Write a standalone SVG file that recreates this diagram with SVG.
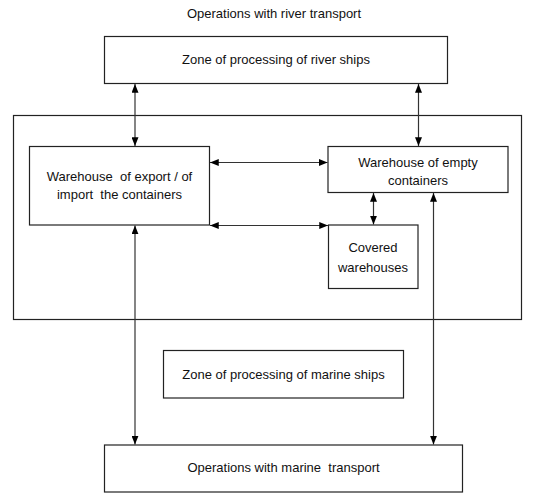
<svg xmlns="http://www.w3.org/2000/svg" width="548" height="493" viewBox="0 0 548 493">
<defs>
<marker id="ah" viewBox="0 0 10 8" refX="10" refY="4" markerWidth="9" markerHeight="7" markerUnits="userSpaceOnUse" orient="auto-start-reverse">
<path d="M0,0 L10,4 L0,8 Z" fill="#000"/>
</marker>
<style>
.box{fill:#fff;stroke:#222;stroke-width:1.2}
.frame{fill:none;stroke:#222;stroke-width:1.2}
.t{font-family:"Liberation Sans",Arial,sans-serif;font-size:13px;fill:#111;text-anchor:middle;white-space:pre}
.c{stroke:#333;stroke-width:1.2;fill:none;marker-start:url(#ah);marker-end:url(#ah)}
</style>
</defs>
<rect width="548" height="493" fill="#fff"/>
<text class="t" x="274" y="18">Operations with river transport</text>
<g id="outer"><rect class="frame" x="13.5" y="115.5" width="508" height="204"/></g>
<g id="river-zone"><rect class="box" x="104.5" y="36.5" width="343" height="47"/><text class="t" x="276" y="64">Zone of processing of river ships</text></g>
<g id="export-import"><rect class="box" x="29.5" y="146.5" width="180" height="78.5"/><text class="t" x="119.5" y="181" xml:space="preserve">Warehouse  of export / of</text><text class="t" x="119.5" y="199" xml:space="preserve">import  the containers</text></g>
<g id="empty"><rect class="box" x="328" y="146.5" width="180" height="46"/><text class="t" x="418" y="166.5">Warehouse of empty</text><text class="t" x="418" y="184.5">containers</text></g>
<g id="covered"><rect class="box" x="328.5" y="225" width="89.5" height="63.5"/><text class="t" x="373" y="251.5">Covered</text><text class="t" x="373" y="271.5">warehouses</text></g>
<g id="marine-zone"><rect class="box" x="163.5" y="350.5" width="240" height="47.5"/><text class="t" x="283.5" y="379">Zone of processing of marine ships</text></g>
<g id="marine-ops"><rect class="box" x="104.5" y="445" width="358" height="47"/><text class="t" x="283.5" y="472" xml:space="preserve">Operations with marine  transport</text></g>
<g id="connectors">
<line class="c" x1="135" y1="84" x2="135" y2="146"/>
<line class="c" x1="418.5" y1="84" x2="418.5" y2="146"/>
<line class="c" x1="210" y1="162.5" x2="327.5" y2="162.5"/>
<line class="c" x1="210" y1="225.5" x2="328" y2="225.5"/>
<line class="c" x1="373.5" y1="193" x2="373.5" y2="224.5"/>
<line class="c" x1="135" y1="225.5" x2="135" y2="444.5"/>
<line class="c" x1="433.5" y1="193" x2="433.5" y2="444.5"/>
</g>
</svg>
